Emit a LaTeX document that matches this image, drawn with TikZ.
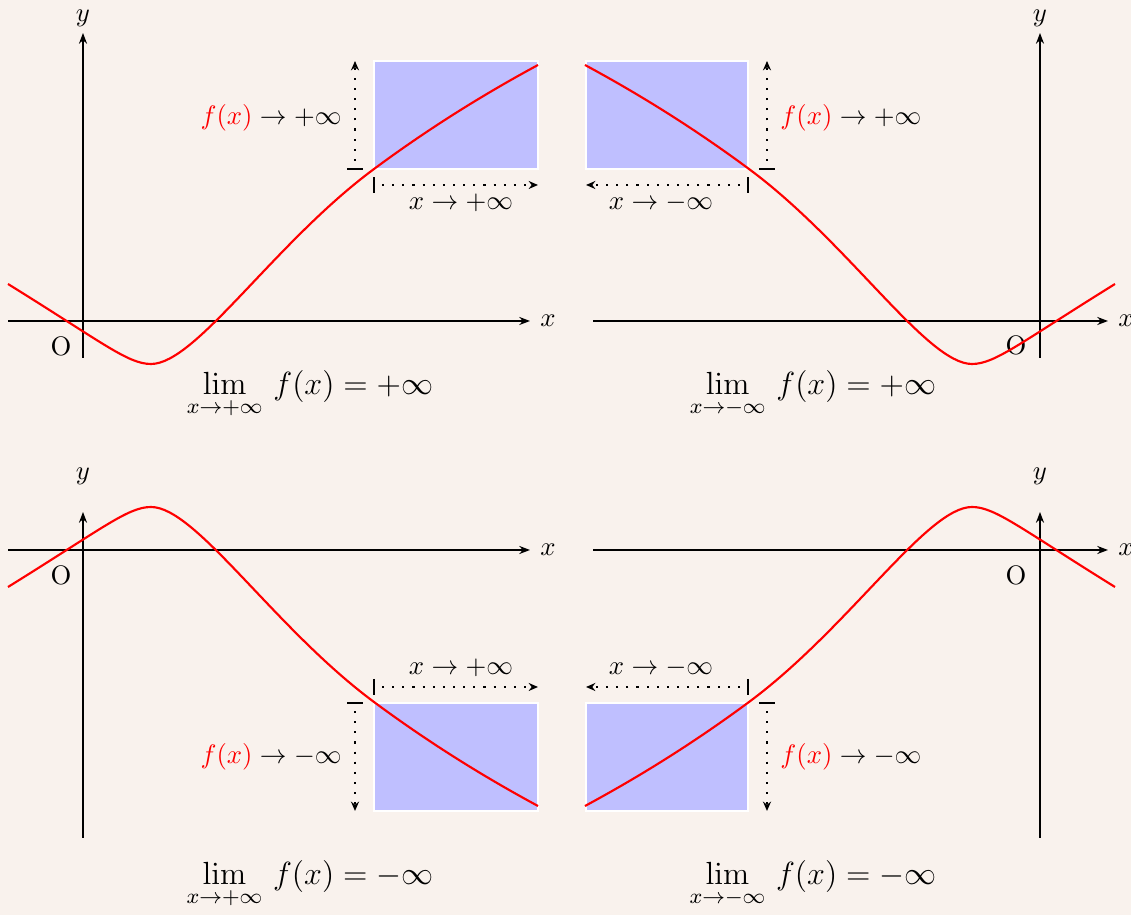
\documentclass[tikz,border=0pt]{standalone}
\usepackage{amsmath}
\usetikzlibrary{arrows.meta}
\definecolor{bgcol}{RGB}{249,242,237}
\definecolor{zonecol}{RGB}{191,191,255}

\begin{document}
\begin{tikzpicture}[
    x=1.316cm, y=1.316cm,
    axis/.style={line width=1.1pt, -{Stealth[length=4pt, width=3pt]}},
    curve/.style={red, thick},
    zone/.style={fill=zonecol, draw=white, thick},
    tendto/.style={line width=0.8pt, dash pattern=on 0.8pt off 3pt, shorten <=3pt, -{Stealth[length=3.5pt, width=3pt]}},
    tickmark/.style={line width=1.1pt},
    limit/.style={font=\large},
    fcurve/.pic={\draw[curve] (-0.75,0.37) .. controls (0.2,-0.219) and (0.45,-0.43) .. (0.68,-0.43)
        .. controls (1.13,-0.43) and (1.91,0.78) .. (2.91,1.52)
        .. controls (3.46,1.927) and (4.0,2.263) .. (4.55,2.56);}
]
    \fill[bgcol] (0,0) rectangle (11.31,9.15);
    \useasboundingbox (0,0) rectangle (11.31,9.15);

    % top left: x -> +infty, f -> +infty
    \begin{scope}[shift={(0.83,5.94)}]
        \draw[zone] (2.91,1.52) rectangle (4.55,2.60);
        \draw[axis] (-0.75,0) -- (4.47,0) node (tl-x) [right] {$x$};
        \draw[axis] (0,-0.37) -- (0,2.88);
        \node (tl-y) at (0,3.03) {$y$};
        \node (tl-o) at (-0.22,-0.25) {O};
        \pic {fcurve};
        \draw[tendto] (2.72,1.52) -- (2.72,2.60);
        \draw[tickmark] (2.64,1.52) -- (2.80,1.52);
        \draw[tendto] (2.91,1.36) -- (4.55,1.36);
        \draw[tickmark] (2.91,1.28) -- (2.91,1.44);
        \node (tl-fx) [anchor=east] at (2.68,2.03) {$\textcolor{red}{f(x)}\to+\infty$};
        \node (tl-xx) at (3.78,1.18) {$x\to+\infty$};
        \node (tl-lim) [limit] at (2.27,-0.74) {$\displaystyle\lim_{x\to+\infty}\, f(x)=+\infty$};
    \end{scope}

    % top right: x -> -infty, f -> +infty
    \begin{scope}[shift={(10.40,5.94)}]
        \draw[zone] (-4.54,1.52) rectangle (-2.92,2.60);
        \draw[axis] (-4.47,0) -- (0.68,0) node (tr-x) [right] {$x$};
        \draw[axis] (0,-0.37) -- (0,2.88);
        \node (tr-y) at (0,3.03) {$y$};
        \node (tr-o) at (-0.24,-0.24) {O};
        \pic[xscale=-1] {fcurve};
        \draw[tendto] (-2.73,1.52) -- (-2.73,2.60);
        \draw[tickmark] (-2.81,1.52) -- (-2.65,1.52);
        \draw[tendto] (-2.92,1.36) -- (-4.54,1.36);
        \draw[tickmark] (-2.92,1.28) -- (-2.92,1.44);
        \node (tr-fx) [anchor=west] at (-2.69,2.03) {$\textcolor{red}{f(x)}\to+\infty$};
        \node (tr-xx) at (-3.79,1.18) {$x\to-\infty$};
        \node (tr-lim) [limit] at (-2.27,-0.74) {$\displaystyle\lim_{x\to-\infty}\, f(x)=+\infty$};
    \end{scope}

    % bottom left: x -> +infty, f -> -infty
    \begin{scope}[shift={(0.83,3.65)}]
        \draw[zone] (2.91,-2.61) rectangle (4.55,-1.53);
        \draw[axis] (-0.75,0) -- (4.47,0) node (bl-x) [right] {$x$};
        \draw[axis] (0,-2.88) -- (0,0.38);
        \node (bl-y) at (0,0.74) {$y$};
        \node (bl-o) at (-0.22,-0.25) {O};
        \pic[yscale=-1] {fcurve};
        \draw[tendto] (2.72,-1.53) -- (2.72,-2.61);
        \draw[tickmark] (2.64,-1.53) -- (2.80,-1.53);
        \draw[tendto] (2.91,-1.37) -- (4.55,-1.37);
        \draw[tickmark] (2.91,-1.29) -- (2.91,-1.45);
        \node (bl-fx) [anchor=east] at (2.68,-2.07) {$\textcolor{red}{f(x)}\to-\infty$};
        \node (bl-xx) at (3.78,-1.18) {$x\to+\infty$};
        \node (bl-lim) [limit] at (2.27,-3.35) {$\displaystyle\lim_{x\to+\infty}\, f(x)=-\infty$};
    \end{scope}

    % bottom right: x -> -infty, f -> -infty
    \begin{scope}[shift={(10.40,3.65)}]
        \draw[zone] (-4.54,-2.61) rectangle (-2.92,-1.53);
        \draw[axis] (-4.47,0) -- (0.68,0) node (br-x) [right] {$x$};
        \draw[axis] (0,-2.88) -- (0,0.38);
        \node (br-y) at (0,0.74) {$y$};
        \node (br-o) at (-0.24,-0.25) {O};
        \pic[xscale=-1, yscale=-1] {fcurve};
        \draw[tendto] (-2.73,-1.53) -- (-2.73,-2.61);
        \draw[tickmark] (-2.81,-1.53) -- (-2.65,-1.53);
        \draw[tendto] (-2.92,-1.37) -- (-4.54,-1.37);
        \draw[tickmark] (-2.92,-1.29) -- (-2.92,-1.45);
        \node (br-fx) [anchor=west] at (-2.69,-2.07) {$\textcolor{red}{f(x)}\to-\infty$};
        \node (br-xx) at (-3.79,-1.18) {$x\to-\infty$};
        \node (br-lim) [limit] at (-2.27,-3.35) {$\displaystyle\lim_{x\to-\infty}\, f(x)=-\infty$};
    \end{scope}
\end{tikzpicture}
\end{document}
